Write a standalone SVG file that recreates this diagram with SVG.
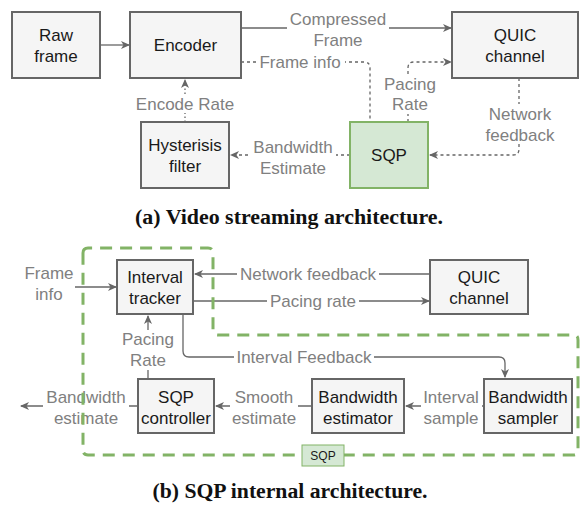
<svg xmlns="http://www.w3.org/2000/svg" width="581" height="506" viewBox="0 0 581 506">
<style>
.box{fill:#f5f5f5;stroke:#666;stroke-width:2}
.green{fill:#d5e8d4;stroke:#82b366;stroke-width:2}
.nt{font-family:"Liberation Sans",Arial,sans-serif;font-size:17px;fill:#1a1a1a;text-anchor:middle}
.et{font-family:"Liberation Sans",Arial,sans-serif;font-size:17px;fill:#808080;text-anchor:middle}
.ln{fill:none;stroke:#666;stroke-width:1.3}
.dash{stroke-dasharray:3,3}
.dot{stroke-dasharray:1.5,2.5}
.bg{fill:#fff}
.cap{font-family:"Liberation Serif","Times New Roman",serif;font-weight:bold;font-size:20px;fill:#111;text-anchor:middle}
</style>
<defs>
<marker id="ah" markerWidth="10" markerHeight="10" refX="8" refY="5" orient="auto" markerUnits="userSpaceOnUse">
<path d="M0,1 L9,5 L0,9 L2.5,5 Z" fill="#666"/>
</marker>
</defs>
<rect width="581" height="506" fill="#fff"/>

<g id="connectors">
<path class="ln" d="M100,45 H129" marker-end="url(#ah)"/>
<path class="ln" d="M241,28 H451" marker-end="url(#ah)"/>
<path class="ln dash" d="M241,62 H364 Q370,62 370,68 V122"/>
<path class="ln dash" d="M408,122 V68 Q408,62 414,62 H451" marker-end="url(#ah)"/>
<path class="ln dash" d="M519,78 V149 Q519,155 513,155 H430" marker-end="url(#ah)"/>
<path class="ln dash" d="M350,155 H231" marker-end="url(#ah)"/>
<path class="ln dot" d="M185,122 V80" marker-end="url(#ah)"/>
<path class="ln" d="M430,274 H195" marker-end="url(#ah)"/>
<path class="ln" d="M193,301 H429" marker-end="url(#ah)"/>
<path class="ln" d="M75,287 H116" marker-end="url(#ah)"/>
<path class="ln" d="M183,314 V351 Q183,357 189,357 H499 Q505,357 505,363 V377" marker-end="url(#ah)"/>
<path class="ln" d="M484,406 H406" marker-end="url(#ah)"/>
<path class="ln" d="M312,406 H216" marker-end="url(#ah)"/>
<path class="ln" d="M138,406 H21" marker-end="url(#ah)"/>
<path class="ln" d="M148,379 V316" marker-end="url(#ah)"/>
</g>

<g id="edge-labels">
<rect class="bg" x="287" y="6" width="102" height="42"/>
<text class="et" x="338" y="25">Compressed</text>
<text class="et" x="338" y="46">Frame</text>
<rect class="bg" x="256" y="53" width="89" height="18"/>
<text class="et" x="300" y="68">Frame info</text>
<rect class="bg" x="384" y="74" width="52" height="40"/>
<text class="et" x="410" y="90">Pacing</text>
<text class="et" x="410" y="110">Rate</text>
<rect class="bg" x="480" y="104" width="80" height="40"/>
<text class="et" x="520" y="120">Network</text>
<text class="et" x="520" y="141">feedback</text>
<rect class="bg" x="250" y="137" width="86" height="40"/>
<text class="et" x="293" y="153">Bandwidth</text>
<text class="et" x="293" y="174">Estimate</text>
<rect class="bg" x="133" y="95" width="104" height="18"/>
<text class="et" x="185" y="110">Encode Rate</text>

<rect class="bg" x="237" y="265" width="142" height="18"/>
<text class="et" x="308" y="280">Network feedback</text>
<rect class="bg" x="267" y="292" width="92" height="18"/>
<text class="et" x="313" y="307">Pacing rate</text>
<text class="et" x="49" y="279">Frame</text>
<text class="et" x="49" y="300">info</text>
<rect class="bg" x="234" y="348" width="140" height="18"/>
<text class="et" x="304" y="363">Interval Feedback</text>
<rect class="bg" x="120" y="330" width="56" height="40"/>
<text class="et" x="148" y="345">Pacing</text>
<text class="et" x="148" y="366">Rate</text>
<rect class="bg" x="421" y="388" width="61" height="40"/>
<text class="et" x="451" y="403">Interval</text>
<text class="et" x="451" y="424">sample</text>
<rect class="bg" x="230" y="388" width="68" height="40"/>
<text class="et" x="264" y="403">Smooth</text>
<text class="et" x="264" y="424">estimate</text>
<rect class="bg" x="43" y="388" width="86" height="40"/>
<text class="et" x="86" y="403">Bandwidth</text>
<text class="et" x="86" y="424">estimate</text>
</g>

<g id="sqp-region">
<path d="M83,253 Q83,248 88,248 H208 Q213,248 213,253 V330 Q213,335 218,335 H574 Q578,335 578,340 V450 Q578,455 573,455 H88 Q83,455 83,450 Z" fill="none" stroke="#82b366" stroke-width="3" stroke-dasharray="12,8"/>
</g>

<g id="raw-frame"><rect class="box" x="12" y="12" width="88" height="66"/>
<text class="nt" x="56" y="41">Raw</text><text class="nt" x="56" y="62">frame</text></g>
<g id="encoder"><rect class="box" x="130" y="12" width="111" height="66"/>
<text class="nt" x="185.5" y="51">Encoder</text></g>
<g id="quic-top"><rect class="box" x="452" y="12" width="126" height="66"/>
<text class="nt" x="515" y="41">QUIC</text><text class="nt" x="515" y="62">channel</text></g>
<g id="hysterisis"><rect class="box" x="141" y="122" width="88" height="66"/>
<text class="nt" x="185" y="151">Hysterisis</text><text class="nt" x="185" y="172">filter</text></g>
<g id="sqp-top"><rect class="green" x="350" y="122" width="78" height="66"/>
<text class="nt" x="389" y="161">SQP</text></g>

<g id="interval-tracker"><rect class="box" x="117" y="260" width="76" height="54"/>
<text class="nt" x="155" y="283">Interval</text><text class="nt" x="155" y="304">tracker</text></g>
<g id="quic-bottom"><rect class="box" x="430" y="260" width="98" height="54"/>
<text class="nt" x="479" y="283">QUIC</text><text class="nt" x="479" y="304">channel</text></g>
<g id="bw-sampler"><rect class="box" x="484" y="379" width="88" height="54"/>
<text class="nt" x="528" y="403">Bandwidth</text><text class="nt" x="528" y="424">sampler</text></g>
<g id="bw-estimator"><rect class="box" x="312" y="379" width="92" height="54"/>
<text class="nt" x="358" y="403">Bandwidth</text><text class="nt" x="358" y="424">estimator</text></g>
<g id="sqp-controller"><rect class="box" x="138" y="379" width="76" height="54"/>
<text class="nt" x="176" y="403">SQP</text><text class="nt" x="176" y="424">controller</text></g>
<g id="sqp-label"><rect x="302" y="445" width="42" height="21" fill="#d5e8d4" stroke="#82b366" stroke-width="1"/>
<text x="323" y="460" style="font-family:'Liberation Sans',Arial,sans-serif;font-size:12px;fill:#1a1a1a;text-anchor:middle">SQP</text></g>

<text class="cap" x="289" y="224" textLength="308" lengthAdjust="spacingAndGlyphs">(a) Video streaming architecture.</text>
<text class="cap" x="290" y="498" textLength="275" lengthAdjust="spacingAndGlyphs">(b) SQP internal architecture.</text>
</svg>
